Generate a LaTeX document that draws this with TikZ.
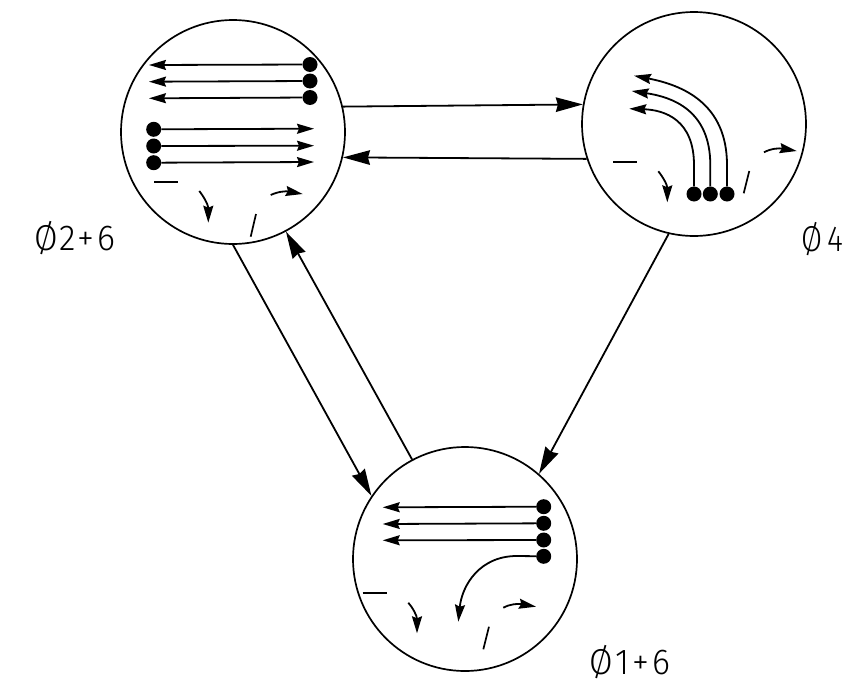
\documentclass[tikz,border=0pt]{standalone}
\usepackage{fontspec}
\newfontfamily\lblfont[UprightFont=* Light,LetterSpace=8,FakeStretch=0.95]{Fira Sans}
\newfontfamily\lblnarrow[UprightFont=* Light,LetterSpace=15,FakeStretch=0.85]{Fira Sans}
\usetikzlibrary{arrows.meta}
\tikzset{
  x=1pt,y=-1pt,
  phase/.style={circle,draw,line width=1.7pt,minimum size=224pt,inner sep=0pt,fill=white},
  dotnode/.style={circle,fill=black,minimum size=15pt,inner sep=0pt},
  flow/.style={line width=1.8pt,-{Stealth[length=27pt,width=14.5pt,inset=2pt]}},
  mv/.style={line width=1.8pt,-{Stealth[length=17pt,width=10pt,inset=2pt]}},
  tick/.style={line width=1.7pt},
  lbl/.style={font=\lblfont\fontsize{36}{36}\selectfont,anchor=base west,inner sep=0pt},
  lblshort/.style={font=\lblnarrow\fontsize{36}{36}\selectfont,anchor=base west,inner sep=0pt}
}
\begin{document}
\begin{tikzpicture}
\useasboundingbox (0,0) rectangle (843,688);
\node[phase] (A) at (233,132) {};
\node[phase] (B) at (694,124) {};
\node[phase] (C) at (465,559) {};
% labels
\node[lbl] (la) at (34,250) {Ø2+6};
\node[lblshort] (lb) at (801,251) {Ø4};
\node[lbl] (lc) at (589,674) {Ø1+6};
% connectors
\draw[flow] (A.13.4) -- (B.170.8);
\draw[flow] (B.198.2) -- (A.-13.9);
\draw[flow] (A.-90) -- (C.146.2);
\draw[flow] (C.118.6) -- (A.-62.4);
\draw[flow] (B.-103) -- (C.49.7);
% circle A: left-going
\node[dotnode] (a1) at (310,64.5) {};
\node[dotnode] (a2) at (310,81) {};
\node[dotnode] (a3) at (310,97.5) {};
\coordinate (a1t) at (149,65);
\coordinate (a2t) at (149,81.7);
\coordinate (a3t) at (149,98.3);
\draw[mv] (a1) -- (a1t);
\draw[mv] (a2) -- (a2t);
\draw[mv] (a3) -- (a3t);
% circle A: right-going
\node[dotnode] (a4) at (153.7,129.3) {};
\node[dotnode] (a5) at (153.7,146) {};
\node[dotnode] (a6) at (153.7,162.7) {};
\coordinate (a4t) at (314,128.7);
\coordinate (a5t) at (314,145.7);
\coordinate (a6t) at (314,162);
\draw[mv] (a4) -- (a4t);
\draw[mv] (a5) -- (a5t);
\draw[mv] (a6) -- (a6t);
% circle A: symbols
\draw[tick] (154.3,181.7) coordinate (a7) -- (178.3,181.7) coordinate (a8);
\draw[tick] (256,214) coordinate (a9) -- (250.7,236.7) coordinate (a10);
\draw[mv] (199.3,191) coordinate (a11) .. controls (204,197) and (208.3,205) .. (208.3,222.7) coordinate (a12);
\draw[mv] (270.7,195) coordinate (a13) .. controls (278,191.5) and (286,191) .. (302.7,194) coordinate (a14);
% circle B
\node[dotnode] (b1) at (694,194) {};
\node[dotnode] (b2) at (710.3,194) {};
\node[dotnode] (b3) at (727,194) {};
\coordinate (b1t) at (629.3,108.7);
\coordinate (b2t) at (631.7,91);
\coordinate (b3t) at (634,75.7);
\draw[mv] (b1) -- (694,165) coordinate (b1m) .. controls (694,120) and (665,110) .. (b1t);
\draw[mv] (b2) -- (710.3,165) coordinate (b2m) .. controls (710.3,110) and (672,97) .. (b2t);
\draw[mv] (b3) -- (727,165) coordinate (b3m) .. controls (727,103) and (682,85) .. (b3t);
\draw[tick] (613.3,162) coordinate (b4) -- (636.7,162) coordinate (b5);
\draw[tick] (749.3,171) coordinate (b6) -- (743.7,193.3) coordinate (b7);
\draw[mv] (658.3,171.3) coordinate (b8) .. controls (663,177) and (667.3,185) .. (667.3,202.3) coordinate (b9);
\draw[mv] (764,152.3) coordinate (b10) .. controls (771,148.5) and (779,148) .. (796.7,151) coordinate (b11);
% circle C
\node[dotnode] (c1) at (543.7,506.7) {};
\node[dotnode] (c2) at (543.7,523.3) {};
\node[dotnode] (c3) at (543.7,540) {};
\node[dotnode] (c4) at (543.7,556.3) {};
\coordinate (c1t) at (382.7,507.3);
\coordinate (c2t) at (382.7,524);
\coordinate (c3t) at (382.7,540.3);
\coordinate (c4t) at (458.3,621.7);
\draw[mv] (c1) -- (c1t);
\draw[mv] (c2) -- (c2t);
\draw[mv] (c3) -- (c3t);
\draw[mv] (c4) -- (516.7,556) coordinate (c4m) .. controls (480,556) and (462,585) .. (c4t);
\draw[tick] (362.7,592.7) coordinate (c5) -- (387,592.7) coordinate (c6);
\draw[tick] (489,626.7) coordinate (c7) -- (483.3,649.3) coordinate (c8);
\draw[mv] (408.3,602.7) coordinate (c9) .. controls (413,608) and (417,616) .. (417,633.3) coordinate (c10);
\draw[mv] (503.3,607.7) coordinate (c11) .. controls (510,604) and (518,603.5) .. (536,606.7) coordinate (c12);
\end{tikzpicture}
\end{document}
